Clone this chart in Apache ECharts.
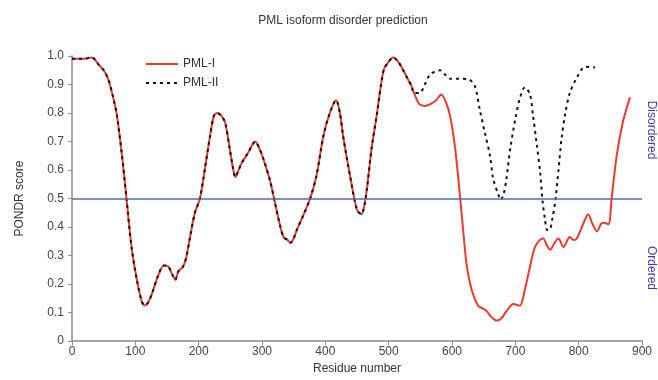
<!DOCTYPE html>
<html>
<head>
<meta charset="utf-8">
<script src="https://cdn.jsdelivr.net/npm/echarts@6/dist/echarts.min.js"></script>
<style>
  html, body { margin: 0; padding: 0; background: #fff; }
  #chart { width: 658px; height: 380px; }
</style>
</head>
<body>
<div id="chart"></div>
<script>
// residue, score pairs
const sharedPts = [
  [0, 0.99], [10, 0.99], [20, 0.99], [30, 0.995], [35, 0.99], [42, 0.97], [50, 0.95],
  [57, 0.92], [65, 0.855], [71, 0.79], [79, 0.65], [86, 0.5], [94, 0.33], [102, 0.22],
  [110, 0.14], [115, 0.125], [120, 0.135], [126, 0.165], [136, 0.23], [145, 0.265],
  [152, 0.262], [158, 0.235], [163, 0.215], [168, 0.245], [175, 0.26], [180, 0.29],
  [186, 0.36], [194, 0.45], [202, 0.5], [210, 0.607], [218, 0.72], [224, 0.79],
  [229, 0.8], [236, 0.79], [242, 0.765], [249, 0.675], [254, 0.61], [258, 0.575],
  [263, 0.6], [268, 0.625], [278, 0.66], [284, 0.685], [289, 0.7], [295, 0.68],
  [302, 0.64], [313, 0.56], [320, 0.49], [328, 0.41], [334, 0.365], [340, 0.355],
  [345, 0.345], [350, 0.36], [355, 0.39], [365, 0.44], [376, 0.5], [386, 0.58],
  [397, 0.72], [407, 0.8], [417, 0.845], [423, 0.8], [428, 0.72], [439, 0.58],
  [450, 0.46], [457, 0.445], [462, 0.48], [466, 0.54], [473, 0.675], [481, 0.79],
  [492, 0.95], [500, 0.98], [507, 0.995], [515, 0.98], [523, 0.95], [530, 0.92],
  [536, 0.895], [540, 0.87]
];

const pml1Tail = [
  [549, 0.83], [557, 0.825], [565, 0.83], [575, 0.845], [583, 0.865], [590, 0.84],
  [597, 0.79], [605, 0.675], [613, 0.5], [618, 0.38], [623, 0.27], [631, 0.18],
  [641, 0.125], [648, 0.115], [655, 0.105], [662, 0.085], [671, 0.072], [678, 0.08],
  [686, 0.105], [697, 0.13], [707, 0.124], [715, 0.18], [723, 0.26], [731, 0.33],
  [739, 0.355], [744, 0.36], [750, 0.335], [755, 0.32], [762, 0.345], [768, 0.36],
  [776, 0.33], [786, 0.365], [792, 0.355], [797, 0.36], [807, 0.41], [815, 0.445],
  [822, 0.41], [829, 0.385], [835, 0.41], [839, 0.415], [847, 0.41], [852, 0.5],
  [860, 0.65], [870, 0.77], [881, 0.855]
];

const pml2Tail = [
  [549, 0.87], [557, 0.9], [565, 0.935], [573, 0.945], [581, 0.95], [589, 0.935],
  [597, 0.92], [613, 0.92], [626, 0.918], [636, 0.895], [644, 0.81], [652, 0.73],
  [660, 0.65], [665, 0.57], [673, 0.515], [677, 0.495], [682, 0.52], [686, 0.57],
  [692, 0.675], [700, 0.78], [707, 0.85], [715, 0.89], [723, 0.866], [728, 0.79],
  [734, 0.687], [739, 0.597], [743, 0.49], [747, 0.424], [750, 0.39], [754, 0.39],
  [758, 0.424], [763, 0.49], [768, 0.597], [773, 0.71], [779, 0.8], [786, 0.87],
  [798, 0.928], [810, 0.962], [826, 0.96]
];

const threshold = 0.5;

const font = "'Liberation Sans', Arial, sans-serif";
const chart = echarts.init(document.getElementById("chart"));

chart.setOption({
  animation: false,
  backgroundColor: "#fff",
  title: {
    text: "PML isoform disorder prediction",
    left: 338,
    top: 10,
    textAlign: "center",
    textStyle: { fontFamily: font, fontSize: 12, fontWeight: "normal", color: "#333" },
  },
  legend: {
    orient: "vertical",
    left: 140,
    top: 53,
    itemWidth: 32,
    itemHeight: 10,
    itemGap: 7,
    itemStyle: { opacity: 0 },
    textStyle: { fontFamily: font, fontSize: 12, color: "#333" },
    data: ["PML-I", "PML-II"],
  },
  grid: { left: 72, right: 16, top: 56, bottom: 34, containLabel: false },
  xAxis: {
    type: "value",
    min: 0,
    max: 900,
    interval: 100,
    name: "Residue number",
    nameLocation: "middle",
    nameGap: 20,
    nameTextStyle: { fontFamily: font, fontSize: 12, color: "#333" },
    splitLine: { show: false },
    axisLine: { lineStyle: { color: "#8a8a8a", width: 1.5 } },
    axisTick: { length: 4, lineStyle: { color: "#8a8a8a" } },
    axisLabel: { fontFamily: font, fontSize: 12, color: "#444", margin: 5 },
  },
  yAxis: {
    type: "value",
    min: 0,
    max: 1,
    interval: 0.1,
    name: "PONDR score",
    nameLocation: "middle",
    nameGap: 46,
    nameTextStyle: { fontFamily: font, fontSize: 12, color: "#333" },
    splitLine: { show: false },
    axisLine: { show: true, lineStyle: { color: "#8a8a8a", width: 1.5 } },
    axisTick: { show: true, length: 4, lineStyle: { color: "#8a8a8a" } },
    axisLabel: {
      fontFamily: font,
      fontSize: 12,
      color: "#444",
      margin: 8,
      formatter: (v) => (v === 0 ? "0" : v.toFixed(1)),
    },
  },
  graphic: [
    {
      type: "text",
      x: 651,
      y: 130,
      rotation: -Math.PI / 2,
      style: {
        text: "Disordered",
        fill: "#3b3bbf",
        font: "12px " + font,
        textAlign: "center",
        textVerticalAlign: "middle",
      },
    },
    {
      type: "text",
      x: 651,
      y: 268,
      rotation: -Math.PI / 2,
      style: {
        text: "Ordered",
        fill: "#3b3bbf",
        font: "12px " + font,
        textAlign: "center",
        textVerticalAlign: "middle",
      },
    },
  ],
  series: [
    {
      name: "PML-I",
      type: "line",
      data: sharedPts.concat(pml1Tail),
      showSymbol: false,
      symbol: "none",
      smooth: 0.3,
      lineStyle: { color: "#ee3a2a", width: 2 },
      itemStyle: { color: "#ee3a2a" },
      markLine: {
        silent: true,
        symbol: "none",
        label: { show: false },
        lineStyle: { color: "#4f6fa8", width: 1.5, type: "solid" },
        data: [{ yAxis: threshold }],
      },
      z: 2,
    },
    {
      name: "PML-II",
      type: "line",
      data: sharedPts.concat(pml2Tail),
      showSymbol: false,
      symbol: "none",
      smooth: 0.3,
      lineStyle: { color: "#111", width: 2, type: [3, 4] },
      itemStyle: { color: "#111" },
      z: 3,
    },
  ],
});
</script>
</body>
</html>
